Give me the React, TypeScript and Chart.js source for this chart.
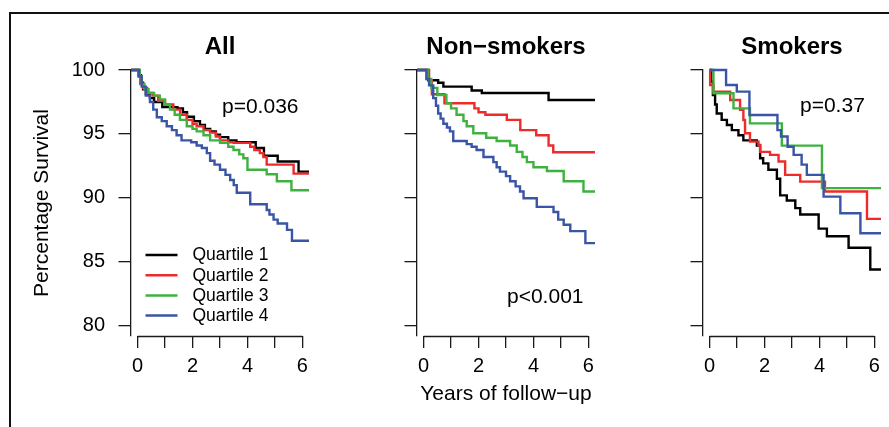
import React, { useEffect, useRef } from 'react';
import { Chart, registerables } from 'chart.js';

Chart.register(...registerables);

// ---------- data ----------
const PANEL_TITLES = ['All', 'Non\u2212smokers', 'Smokers'];
const SERIES_LABELS = ['Quartile 1', 'Quartile 2', 'Quartile 3', 'Quartile 4'];
const SERIES_COLORS = ['#000000', '#ee2b2b', '#3fb13f', '#3a54a6'];
const P_VALUES = ['p=0.036', 'p<0.001', 'p=0.37'];
const X_TICKS = [0, 1, 2, 3, 4, 5, 6];
const X_LABELED = [0, 2, 4, 6];
const Y_TICKS = [80, 85, 90, 95, 100];
const X_TITLE = 'Years of follow\u2212up';
const Y_TITLE = 'Percentage Survival';

// [years, survival %]
const ALL_Q1: number[][] = [[-0.24,100],[0.05,99.6],[0.12,99.0],[0.2,98.5],[0.3,98.1],[0.45,97.8],[0.6,97.5],[0.9,97.1],[1.45,97.0],[1.65,96.7],[1.8,96.35],[2.05,96.0],[2.27,95.7],[2.45,95.4],[2.64,95.2],[2.85,94.95],[3.0,94.75],[3.3,94.5],[3.6,94.35],[4.3,93.9],[4.6,93.3],[5.1,92.85],[5.86,92.05],[6.3,92.05]];
const ALL_Q2: number[][] = [[-0.24,100],[0.03,99.5],[0.1,98.9],[0.2,98.6],[0.35,98.2],[0.55,98.0],[0.75,97.6],[1.0,97.3],[1.3,96.9],[1.55,96.5],[1.79,96.1],[2.0,95.8],[2.15,95.6],[2.4,95.3],[2.64,95.1],[2.85,94.8],[3.0,94.5],[3.3,94.35],[3.5,94.3],[4.1,94.0],[4.25,93.75],[4.45,93.5],[4.58,93.2],[4.7,92.6],[5.68,91.9],[6.3,91.9]];
const ALL_Q3: number[][] = [[-0.24,100],[0.08,99.5],[0.15,98.9],[0.25,98.5],[0.4,98.2],[0.6,98.0],[0.81,97.7],[1.0,97.3],[1.18,96.9],[1.35,96.5],[1.54,96.1],[1.79,95.6],[2.0,95.4],[2.15,95.2],[2.4,94.9],[2.64,94.5],[3.0,94.3],[3.3,94.0],[3.49,93.75],[3.7,93.4],[3.85,93.1],[4.0,92.2],[4.7,91.85],[5.07,91.3],[5.6,90.6],[6.3,90.6]];
const ALL_Q4: number[][] = [[-0.24,100],[0.05,99.5],[0.15,98.7],[0.3,98.0],[0.45,97.5],[0.57,96.9],[0.7,96.3],[0.88,96.0],[1.06,95.6],[1.25,95.3],[1.42,94.9],[1.6,94.5],[1.95,94.35],[2.15,94.1],[2.34,93.9],[2.52,93.5],[2.64,92.9],[2.8,92.6],[3.0,92.2],[3.2,91.8],[3.37,91.4],[3.5,91.0],[3.61,90.4],[4.1,89.5],[4.7,89.05],[4.8,88.7],[4.95,88.3],[5.1,88.0],[5.44,87.5],[5.62,86.65],[6.3,86.65]];

const NON_Q1: number[][] = [[-0.24,100],[0.17,99.2],[0.53,99.0],[0.72,98.7],[1.75,98.4],[2.12,98.2],[4.55,97.65],[6.3,97.65]];
const NON_Q2: number[][] = [[-0.24,100],[0.2,99.2],[0.3,98.1],[0.76,97.4],[1.85,97.0],[2.0,96.7],[2.25,96.5],[3.03,96.1],[3.52,95.3],[4.1,94.9],[4.55,94.1],[4.72,93.57],[6.3,93.57]];
const NON_Q3: number[][] = [[-0.24,100],[0.15,99.3],[0.28,98.6],[0.5,98.05],[0.83,97.4],[1.0,97.0],[1.2,96.5],[1.45,96.0],[1.57,95.6],[1.81,95.05],[2.28,94.7],[2.66,94.45],[3.15,94.1],[3.39,93.6],[3.6,93.2],[3.76,92.8],[4.0,92.4],[4.49,92.1],[5.1,91.3],[5.82,90.5],[6.3,90.5]];
const NON_Q4: number[][] = [[-0.24,100],[0.1,99.3],[0.2,98.8],[0.35,97.8],[0.45,97.2],[0.53,96.6],[0.62,96.2],[0.72,95.8],[0.85,95.5],[0.96,95.2],[1.08,94.45],[1.57,94.2],[1.75,94.0],[1.93,93.75],[2.18,93.2],[2.54,92.8],[2.66,92.4],[2.78,92.05],[3.0,91.7],[3.15,91.3],[3.35,90.9],[3.51,90.5],[3.64,89.97],[4.12,89.3],[4.73,88.9],[4.9,88.3],[5.1,87.9],[5.34,87.4],[5.89,86.46],[6.3,86.46]];

const SMK_Q1: number[][] = [[0,100],[0.06,99.1],[0.12,98.05],[0.2,97.3],[0.26,96.6],[0.44,96.1],[0.63,95.7],[0.81,95.3],[1.05,94.9],[1.23,94.5],[1.72,94.1],[1.84,93.1],[1.95,92.7],[2.14,92.2],[2.45,91.5],[2.57,90.2],[2.81,89.8],[3.12,89.2],[3.3,88.7],[3.97,87.6],[4.27,87.0],[5.06,86.1],[5.85,84.4],[6.3,84.4]];
const SMK_Q2: number[][] = [[0,100],[0.02,98.83],[0.14,98.31],[0.75,97.66],[1.11,96.88],[1.23,96.09],[1.29,95.05],[1.47,94.4],[1.78,94.14],[1.84,93.6],[2.2,93.36],[2.51,92.84],[2.75,91.8],[3.3,91.27],[4.2,90.5],[5.73,88.36],[6.3,88.36]];
const SMK_Q3: number[][] = [[0,100],[0.14,98.18],[0.87,97.0],[1.47,95.83],[2.63,94.09],[4.09,90.76],[6.3,90.76]];
const SMK_Q4: number[][] = [[0,100],[0.6,98.83],[0.99,98.31],[1.45,96.48],[2.47,95.3],[2.6,94.8],[2.84,94.0],[3.06,93.36],[3.35,92.6],[3.54,91.8],[4.15,90.1],[4.76,88.8],[5.49,87.24],[6.3,87.24]];

const PANEL_DATA = [
  [ALL_Q1, ALL_Q2, ALL_Q3, ALL_Q4],
  [NON_Q1, NON_Q2, NON_Q3, NON_Q4],
  [SMK_Q1, SMK_Q2, SMK_Q3, SMK_Q4],
];

// ---------- layout ----------
const W = 889;
const H = 427;
const PLOT_LEFTS = [131, 417, 703];
const PLOT_W = 178;
const FONT = "'Liberation Sans', Arial, Helvetica, sans-serif";

function makeChart(canvas: HTMLCanvasElement, i: number) {
  const yAxisWidth = i === 0 ? 111 : 60;
  const padLeft = PLOT_LEFTS[i] - yAxisWidth;
  const padRight = W - (PLOT_LEFTS[i] + PLOT_W);

  const overlay = {
    id: 'overlay' + i,
    afterDraw(chart: any) {
      const ctx = chart.ctx;
      const xs = chart.scales.x;
      const area = chart.chartArea;
      ctx.save();
      // x axis line from first to last tick
      ctx.strokeStyle = '#1a1a1a';
      ctx.lineWidth = 1.3;
      ctx.beginPath();
      const yb = Math.round(area.bottom) + 0.5;
      ctx.moveTo(xs.getPixelForValue(X_TICKS[0]), yb);
      ctx.lineTo(xs.getPixelForValue(X_TICKS[X_TICKS.length - 1]), yb);
      ctx.stroke();

      // p-value
      ctx.fillStyle = '#000';
      ctx.font = `21px ${FONT}`;
      ctx.textAlign = 'left';
      ctx.textBaseline = 'middle';
      const pPos = [[91, 37], [90, 227], [97, 36.5]][i];
      ctx.fillText(P_VALUES[i], area.left + pPos[0], area.top + pPos[1]);

      // legend
      if (i === 0) {
        ctx.font = `17.5px ${FONT}`;
        chart.data.datasets.forEach((ds: any, k: number) => {
          const y = area.top + 185 + 20.2 * k;
          ctx.strokeStyle = ds.borderColor;
          ctx.lineWidth = 2.5;
          ctx.beginPath();
          ctx.moveTo(area.left + 14.5, y);
          ctx.lineTo(area.left + 46.5, y);
          ctx.stroke();
          ctx.fillStyle = '#000';
          ctx.fillText(ds.label, area.left + 61.5, y + 0.5);
        });
      }
      ctx.restore();
    },
  };

  return new Chart(canvas, {
    type: 'line',
    data: {
      datasets: PANEL_DATA[i].map((pts, k) => ({
        label: SERIES_LABELS[k],
        data: pts.map(([x, y]) => ({ x, y })),
        borderColor: SERIES_COLORS[k],
        backgroundColor: SERIES_COLORS[k],
        borderWidth: 2.4,
        pointRadius: 0,
        stepped: 'before',
        fill: false,
        order: 3 - k,
        borderJoinStyle: 'miter',
        borderCapStyle: 'butt',
        clip: { left: 2, top: 3, right: 0, bottom: 0 },
      })),
    },
    options: {
      responsive: false,
      animation: false,
      devicePixelRatio: 1,
      events: [],
      layout: { padding: { left: padLeft, right: padRight, top: 20, bottom: 10 } },
      plugins: {
        legend: { display: false },
        tooltip: { enabled: false },
        title: {
          display: true,
          text: PANEL_TITLES[i],
          fullSize: false,
          color: '#000',
          font: { size: 24, weight: 'bold', family: FONT },
          padding: { top: 12.6, bottom: 8.6 },
        },
      },
      scales: {
        x: {
          type: 'linear',
          min: -0.24,
          max: 6.24,
          afterBuildTicks: (s: any) => { s.ticks = X_TICKS.map((v) => ({ value: v })); },
          afterFit: (s: any) => { s.height = 81; },
          border: { display: false },
          grid: { drawOnChartArea: false, drawTicks: true, tickLength: 12, color: '#1a1a1a', lineWidth: 1.3 },
          ticks: {
            autoSkip: false,
            maxRotation: 0,
            padding: 6.3,
            color: '#000',
            font: { size: 20, family: FONT },
            callback: (v: any) => (X_LABELED.includes(Number(v)) ? String(v) : ''),
          },
          title: i === 1
            ? { display: true, text: X_TITLE, color: '#000', font: { size: 21, family: FONT }, padding: { top: 0, bottom: 10.4 } }
            : { display: false },
        },
        y: {
          type: 'linear',
          min: 79.2,
          max: 100,
          afterBuildTicks: (s: any) => { s.ticks = Y_TICKS.map((v) => ({ value: v })); },
          afterFit: (s: any) => { s.width = yAxisWidth; },
          border: { display: true, color: '#1a1a1a', width: 1.3 },
          grid: { drawOnChartArea: false, drawTicks: true, tickLength: 12.5, color: '#1a1a1a', lineWidth: 1.3 },
          ticks: {
            display: i === 0,
            padding: 13.5,
            color: '#000',
            font: { size: 20, family: FONT },
            callback: (v: any) => String(v),
          },
          title: i === 0
            ? { display: true, text: Y_TITLE, color: '#000', font: { size: 21, family: FONT }, padding: { top: 9.4, bottom: 0 } }
            : { display: false },
        },
      },
    } as any,
    plugins: [overlay],
  });
}

export default function App() {
  const refs = [useRef<HTMLCanvasElement>(null), useRef<HTMLCanvasElement>(null), useRef<HTMLCanvasElement>(null)];

  useEffect(() => {
    Chart.defaults.font.family = FONT;
    const charts = refs.map((r, i) => (r.current ? makeChart(r.current, i) : null));
    return () => { charts.forEach((c) => c && c.destroy()); };
  }, []);

  return (
    <div style={{ position: 'fixed', left: 0, top: 0, width: W, height: H, overflow: 'hidden', background: '#fff' }}>
      <div style={{ position: 'absolute', left: 9, top: 12, width: 1000, height: 1000, borderTop: '2px solid #111', borderLeft: '2px solid #111' }} />
      {refs.map((r, i) => (
        <canvas key={i} ref={r} width={W} height={H} style={{ position: 'absolute', left: 0, top: 0, width: W, height: H }} />
      ))}
    </div>
  );
}
